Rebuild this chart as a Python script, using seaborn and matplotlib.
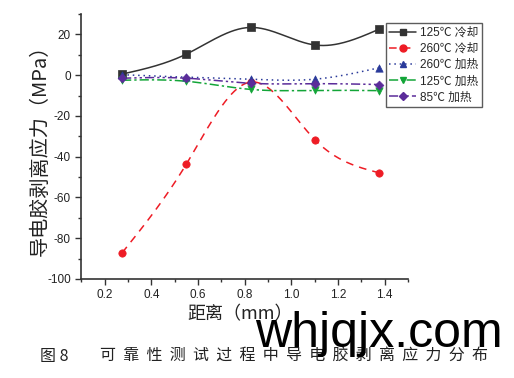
import numpy as np
import pandas as pd
import matplotlib
matplotlib.use("Agg")
import matplotlib.pyplot as plt
import seaborn as sns
from matplotlib.ticker import MultipleLocator

sns.set_theme(style="ticks")
plt.rcParams["font.family"] = ["Liberation Sans", "Noto Sans CJK SC"]
plt.rcParams["axes.unicode_minus"] = False

# ── data ────────────────────────────────────────────────────
distance = [0.275, 0.55, 0.825, 1.1, 1.375]
cool_125 = [0.5, 10.3, 23.4, 14.8, 22.5]
cool_260 = [-87.2, -43.7, -3.4, -31.6, -47.9]
heat_260 = [0.2, -1.0, -2.0, -2.0, 3.6]
heat_125 = [-2.5, -3.0, -7.0, -7.5, -7.6]
heat_85 = [-1.5, -1.5, -4.0, -4.2, -4.6]

series_names = ["125℃ 冷却", "260℃ 冷却", "260℃ 加热", "125℃ 加热", "85℃ 加热"]
series_vals = [cool_125, cool_260, heat_260, heat_125, heat_85]

df = pd.DataFrame({"distance": distance * 5,
                   "stress": sum(series_vals, []),
                   "series": np.repeat(series_names, len(distance))})

colors = ["#333333", "#ee1c25", "#2a3a9a", "#13a538", "#5b2c9a"]
markers = ["s", "o", "^", "v", "D"]
dashes = ["-", (0, (5, 4)), (0, (1, 2.5)), (0, (6, 2, 1.5, 2)), (0, (6, 2, 1.5, 2, 1.5, 2))]


def smooth(x, y, n=200):
    # natural cubic spline just for drawing the connecting curve
    x = np.asarray(x, float); y = np.asarray(y, float)
    k = len(x); h = np.diff(x)
    A = np.zeros((k, k)); r = np.zeros(k)
    A[0, 0] = A[-1, -1] = 1
    for i in range(1, k - 1):
        A[i, i - 1] = h[i - 1]; A[i, i] = 2 * (h[i - 1] + h[i]); A[i, i + 1] = h[i]
        r[i] = 6 * ((y[i + 1] - y[i]) / h[i] - (y[i] - y[i - 1]) / h[i - 1])
    M = np.linalg.solve(A, r)
    xs = np.linspace(x[0], x[-1], n)
    j = np.clip(np.searchsorted(x, xs) - 1, 0, k - 2)
    t0 = x[j + 1] - xs; t1 = xs - x[j]; hj = h[j]
    ys = (M[j] * t0**3 + M[j + 1] * t1**3) / (6 * hj) \
        + (y[j] / hj - M[j] * hj / 6) * t0 + (y[j + 1] / hj - M[j + 1] * hj / 6) * t1
    return xs, ys


fig = plt.figure(figsize=(5.14, 3.78), dpi=100)
ax = fig.add_axes([0.158, 0.262, 0.636, 0.701])

handles = []
for name, c, m, ls in zip(series_names, colors, markers, dashes):
    sub = df[df["series"] == name]
    xs, ys = smooth(sub["distance"], sub["stress"])
    ax.plot(xs, ys, color=c, lw=1.1, linestyle=ls)
    sns.scatterplot(data=sub, x="distance", y="stress", color=c, marker=m,
                    s=28 if m != "D" else 20, edgecolor=c, linewidth=0.5,
                    ax=ax, legend=False, zorder=3)
    h, = ax.plot([], [], color=c, lw=1.1, linestyle=ls, marker=m,
                 markersize=5 if m != "D" else 4.5)
    handles.append(h)

ax.set_xlim(0.1, 1.5)
ax.set_ylim(-100, 30)
ax.xaxis.set_major_locator(MultipleLocator(0.2))
ax.xaxis.set_minor_locator(MultipleLocator(0.1))
ax.yaxis.set_major_locator(MultipleLocator(20))
ax.yaxis.set_minor_locator(MultipleLocator(10))
ax.tick_params(which="major", length=4, width=1, labelsize=8.5, color="#333333",
               labelcolor="#222222")
ax.tick_params(which="minor", length=2.5, width=1, color="#333333")
for s in ["top", "right"]:
    ax.spines[s].set_visible(False)
for s in ["left", "bottom"]:
    ax.spines[s].set_linewidth(1.2)
    ax.spines[s].set_color("#333333")
ax.set_xlabel("")
ax.set_ylabel("")

cjk = ["Noto Sans CJK SC"]
fig.text(0.078, 0.615, "导电胶剥离应力（MPa）", rotation=90, ha="center", va="center",
         fontsize=14.5, family=cjk, color="#222222")
fig.text(0.467, 0.168, "距离（mm）", ha="center", va="center",
         fontsize=13, family=cjk, color="#222222")
fig.text(0.078, 0.058, "图 8", ha="left", va="center",
         fontsize=11.5, family=cjk, color="#222222")
fig.text(0.195, 0.058, "  ".join("可靠性测试过程中导电胶剥离应力分布"), ha="left",
         va="center", fontsize=11.5, family=cjk, color="#222222")
fig.text(0.496, 0.082, "whjqjx.com", ha="left", va="baseline",
         fontsize=36, family=["Liberation Sans"], color="black")

leg = fig.legend(handles, series_names, loc="upper left",
                 bbox_to_anchor=(0.75, 0.938), frameon=True,
                 fancybox=False, edgecolor="#333333", handlelength=2.3,
                 borderpad=0.3, labelspacing=0.35, handletextpad=0.3,
                 borderaxespad=0,
                 prop={"family": ["Liberation Sans", "Noto Sans CJK SC"], "size": 8.5})
leg.get_frame().set_linewidth(1.0)

fig.savefig("out.png", dpi=100)
